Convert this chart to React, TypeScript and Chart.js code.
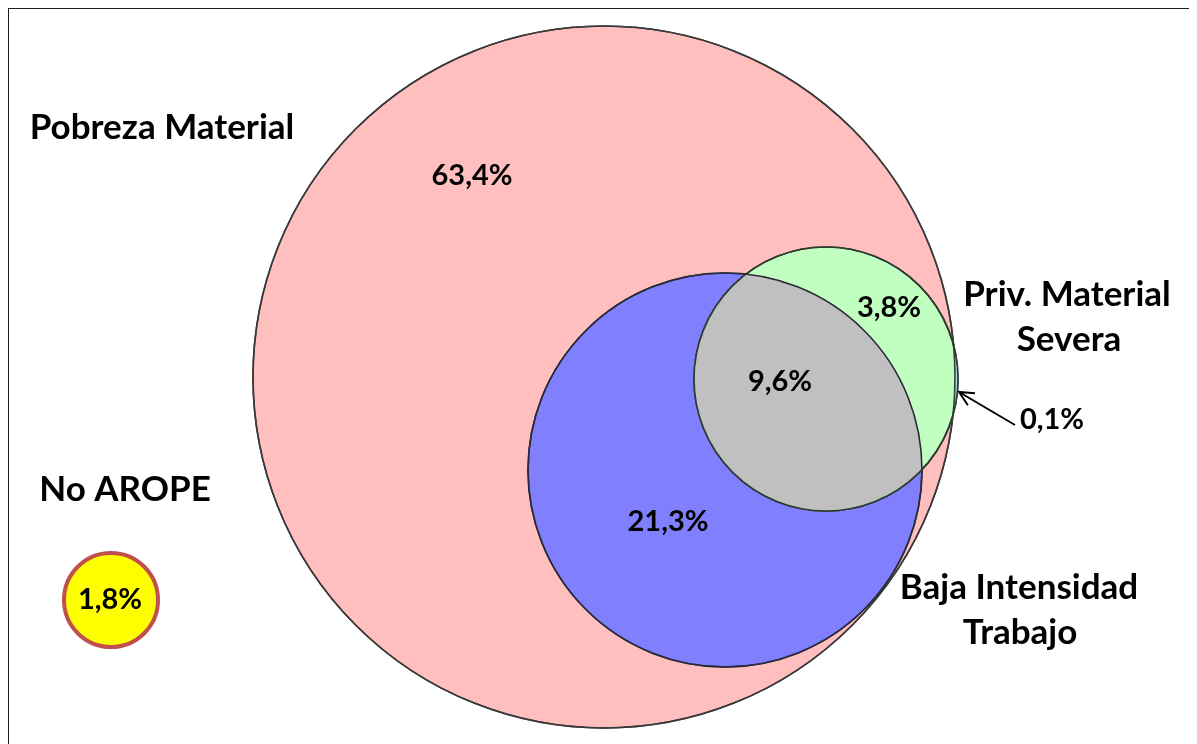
import React, { useEffect, useRef } from "react";
import { Chart, registerables } from "chart.js";

Chart.register(...registerables);

// Venn circles (data units)
const CIRCLE_NAMES = ["Pobreza Material", "Baja Intensidad Trabajo", "Priv. Material Severa", "No AROPE"];
const CIRCLE_X = [604, 725, 826, 111];
const CIRCLE_Y = [377, 470, 379, 600];
const CIRCLE_R = [351, 197, 132, 47];
const CIRCLE_FILL = ["#ffbfbf", "#8080ff", "#c0ffc0", "#ffff00"];
const CIRCLE_STROKE = ["#3a3a3a", "#2a2a3a", "#2f3a2f", "#c0504d"];
const CIRCLE_STROKE_W = [1.6, 1.6, 1.6, 4];

// Region shares
const SHARE_LABELS = ["63,4%", "21,3%", "3,8%", "9,6%", "0,1%", "1,8%"];
const SHARE_X = [472, 668, 889, 780, 1052, 110];
const SHARE_Y = [176, 522, 308, 382, 420, 600];

// Set name labels
const NAME_LINES = ["Pobreza Material", "Priv. Material", "Severa", "No AROPE", "Baja Intensidad", "Trabajo"];
const NAME_X = [162, 1067, 1069, 125, 1019, 1020];
const NAME_Y = [128, 295, 340, 490, 588, 633];

// Arrow for the tiny region
const ARROW_FROM = [1015, 425];
const ARROW_TO = [959, 392];

const X_MIN = 9;
const X_MAX = 1197;
const Y_MIN = 9;
const Y_MAX = 744;

const FONT = "Lato, 'Open Sans', sans-serif";

const overlayPlugin = {
  id: "vennOverlay",
  afterDatasetsDraw(chart: any) {
    const ctx = chart.ctx;
    const xs = chart.scales.x;
    const ys = chart.scales.y;
    const px = (v: number) => xs.getPixelForValue(v);
    const py = (v: number) => ys.getPixelForValue(v);
    const pr = (r: number) => Math.abs(xs.getPixelForValue(r) - xs.getPixelForValue(0));
    const circ = (i: number) => {
      ctx.beginPath();
      ctx.arc(px(CIRCLE_X[i]), py(CIRCLE_Y[i]), pr(CIRCLE_R[i]), 0, Math.PI * 2);
    };

    // lens: blue ∩ green
    ctx.save();
    circ(1);
    ctx.clip();
    circ(2);
    ctx.fillStyle = "#c0c0c0";
    ctx.fill();
    ctx.restore();

    // sliver: green outside pink
    ctx.save();
    circ(2);
    ctx.clip();
    ctx.beginPath();
    ctx.rect(0, 0, chart.width, chart.height);
    ctx.arc(px(CIRCLE_X[0]), py(CIRCLE_Y[0]), pr(CIRCLE_R[0]), 0, Math.PI * 2, true);
    ctx.fillStyle = "#a6e4ee";
    ctx.fill("evenodd");
    ctx.restore();

    // re-stroke outlines
    [0, 1, 2].forEach((i) => {
      circ(i);
      ctx.strokeStyle = CIRCLE_STROKE[i];
      ctx.lineWidth = CIRCLE_STROKE_W[i];
      ctx.stroke();
    });

    // arrow
    ctx.save();
    ctx.strokeStyle = "#000";
    ctx.lineWidth = 2;
    const x1 = px(ARROW_FROM[0]), y1 = py(ARROW_FROM[1]);
    const x2 = px(ARROW_TO[0]), y2 = py(ARROW_TO[1]);
    ctx.beginPath();
    ctx.moveTo(x1, y1);
    ctx.lineTo(x2, y2);
    const ang = Math.atan2(y2 - y1, x2 - x1);
    const hl = 16;
    ctx.moveTo(x2 - hl * Math.cos(ang - 0.45), y2 - hl * Math.sin(ang - 0.45));
    ctx.lineTo(x2, y2);
    ctx.lineTo(x2 - hl * Math.cos(ang + 0.45), y2 - hl * Math.sin(ang + 0.45));
    ctx.stroke();
    ctx.restore();

    // texts
    ctx.save();
    ctx.fillStyle = "#000";
    ctx.textAlign = "center";
    ctx.textBaseline = "middle";
    ctx.font = `bold 29px ${FONT}`;
    SHARE_LABELS.forEach((t, i) => ctx.fillText(t, px(SHARE_X[i]), py(SHARE_Y[i])));
    ctx.font = `bold 35px ${FONT}`;
    NAME_LINES.forEach((t, i) => ctx.fillText(t, px(NAME_X[i]), py(NAME_Y[i])));
    ctx.restore();
  },
};

export default function App() {
  const ref = useRef<HTMLCanvasElement | null>(null);
  useEffect(() => {
    document.documentElement.style.overflow = "hidden";
    document.body.style.overflow = "hidden";
    if (!ref.current) return;
    // radius in data units -> pixels, using the x scale's range over the (full-width) chart area
    const radiusFor = (ctx: any) => {
      const r = CIRCLE_R[ctx.dataset.circleIndex];
      const s = ctx.chart.scales && ctx.chart.scales.x;
      if (s && s.width > 0) {
        return Math.abs(s.getPixelForValue(r) - s.getPixelForValue(0));
      }
      return (r * ctx.chart.width) / (X_MAX - X_MIN);
    };
    const datasets = [0, 1, 2, 3].map((i) => ({
      label: CIRCLE_NAMES[i],
      circleIndex: i,
      data: [{ x: CIRCLE_X[i], y: CIRCLE_Y[i] }],
      backgroundColor: CIRCLE_FILL[i],
      borderColor: CIRCLE_STROKE[i],
      borderWidth: CIRCLE_STROKE_W[i],
      radius: radiusFor,
      clip: false,
      order: 10 - i,
    }));
    const chart = new Chart(ref.current, {
      type: "bubble",
      data: { datasets: datasets as any },
      options: {
        animation: false,
        responsive: false,
        events: [],
        layout: { padding: 0, autoPadding: false },
        plugins: { legend: { display: false }, tooltip: { enabled: false } },
        scales: {
          x: { type: "linear", min: X_MIN, max: X_MAX, display: false },
          y: { type: "linear", min: Y_MIN, max: Y_MAX, reverse: true, display: false },
        },
      },
      plugins: [overlayPlugin],
    });
    return () => chart.destroy();
  }, []);
  return (
    <div
      style={{
        marginTop: -1,
        marginLeft: -1,
        width: 1190,
        height: 737,
        boxSizing: "border-box",
        borderTop: "2px solid #1e1e1e",
        borderLeft: "2px solid #1e1e1e",
        background: "#fff",
      }}
    >
      <canvas ref={ref} width={1188} height={735} style={{ display: "block" }} />
    </div>
  );
}
